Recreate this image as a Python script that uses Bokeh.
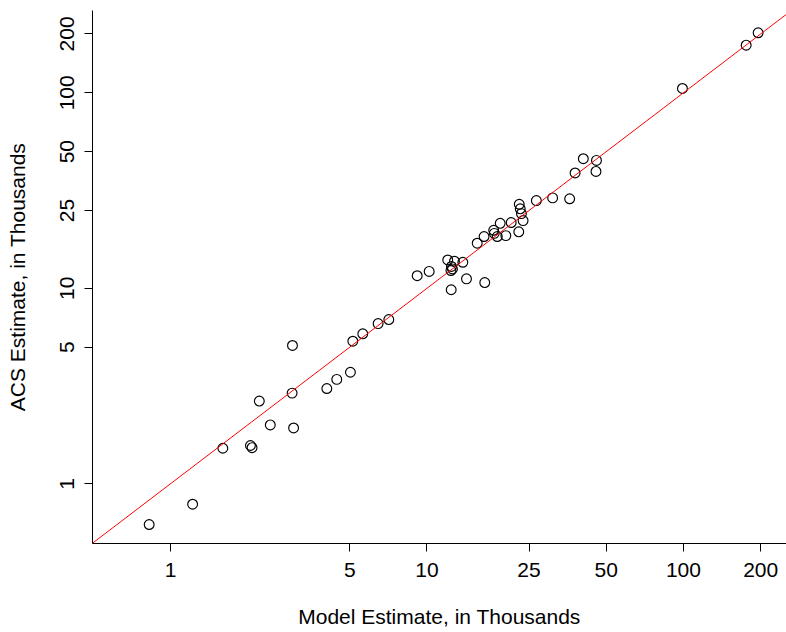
from bokeh.plotting import figure
from bokeh.models import Range1d, FixedTicker, PrintfTickFormatter, Slope, ColumnDataSource
from bokeh.embed import file_html
from bokeh.resources import INLINE

# Model estimates (x) and ACS estimates (y), in thousands
model_est = [0.826, 1.22, 1.60, 2.05, 2.08, 2.22, 2.45, 2.99, 2.98, 3.02,
             4.07, 4.45, 5.03, 5.14, 5.62, 6.45, 7.10, 9.16, 10.2, 12.05,
             12.8, 13.8, 12.46, 12.57, 12.40, 12.43, 14.26, 16.8, 15.7, 16.7,
             18.2, 18.3, 18.8, 19.3, 20.3, 21.3, 22.8, 22.9, 23.1, 23.35,
             23.7, 26.7, 30.9, 36.0, 37.8, 40.7, 45.8, 45.6, 99.1, 175.6, 195.5]
acs_est = [0.619, 0.786, 1.52, 1.57, 1.53, 2.65, 2.00, 5.10, 2.91, 1.93,
           3.07, 3.42, 3.72, 5.36, 5.85, 6.60, 6.92, 11.6, 12.2, 13.96,
           13.76, 13.58, 12.93, 12.56, 12.33, 9.83, 11.18, 10.7, 17.0, 18.4,
           19.8, 19.1, 18.4, 21.5, 18.6, 21.7, 19.45, 26.9, 25.5, 24.1,
           22.2, 28.1, 29.0, 28.7, 38.9, 46.0, 45.1, 39.6, 105.2, 175.2, 202.8]

tick_vals = [1, 5, 10, 25, 50, 100, 200]
x_lim = (0.4966, 252.2)
y_lim = (0.495, 263.6)

FONT = "Liberation Sans"

p = figure(width=786, height=632, x_axis_type="log", y_axis_type="log",
           x_range=Range1d(*x_lim), y_range=Range1d(*y_lim),
           output_backend="svg", toolbar_location=None,
           x_axis_label="Model Estimate, in Thousands",
           y_axis_label="ACS Estimate, in Thousands")
p.min_border = 0
p.min_border_left = 92
p.min_border_right = 0
p.min_border_top = 10
p.min_border_bottom = 89
p.grid.visible = False
p.outline_line_color = None
p.background_fill_color = "white"
p.border_fill_color = "white"

for ax in (p.xaxis[0], p.yaxis[0]):
    ax.ticker = FixedTicker(ticks=tick_vals, minor_ticks=[])
    ax.formatter = PrintfTickFormatter(format="%d")
    ax.major_tick_out = 8
    ax.major_tick_in = 0
    ax.minor_tick_out = 0
    ax.minor_tick_in = 0
    ax.axis_line_color = "black"
    ax.axis_line_width = 1
    ax.major_tick_line_color = "black"
    ax.major_tick_line_width = 1
    ax.major_label_text_font = FONT
    ax.major_label_text_font_size = "21px"
    ax.major_label_text_color = "black"
    ax.axis_label_text_font = FONT
    ax.axis_label_text_font_size = "21px"
    ax.axis_label_text_font_style = "normal"
    ax.axis_label_text_color = "black"

p.xaxis[0].major_label_standoff = 11
p.xaxis[0].axis_label_standoff = 25
p.yaxis[0].major_label_orientation = "vertical"
p.yaxis[0].major_label_standoff = 10
p.yaxis[0].axis_label_standoff = 29

src = ColumnDataSource(dict(x=model_est, y=acs_est))
p.scatter("x", "y", source=src, marker="circle", size=9.8,
          fill_color=None, line_color="black", line_width=1.15)

p.add_layout(Slope(gradient=1, y_intercept=0, line_color="red", line_width=1))

open("out.html", "w").write(file_html(p, INLINE))
